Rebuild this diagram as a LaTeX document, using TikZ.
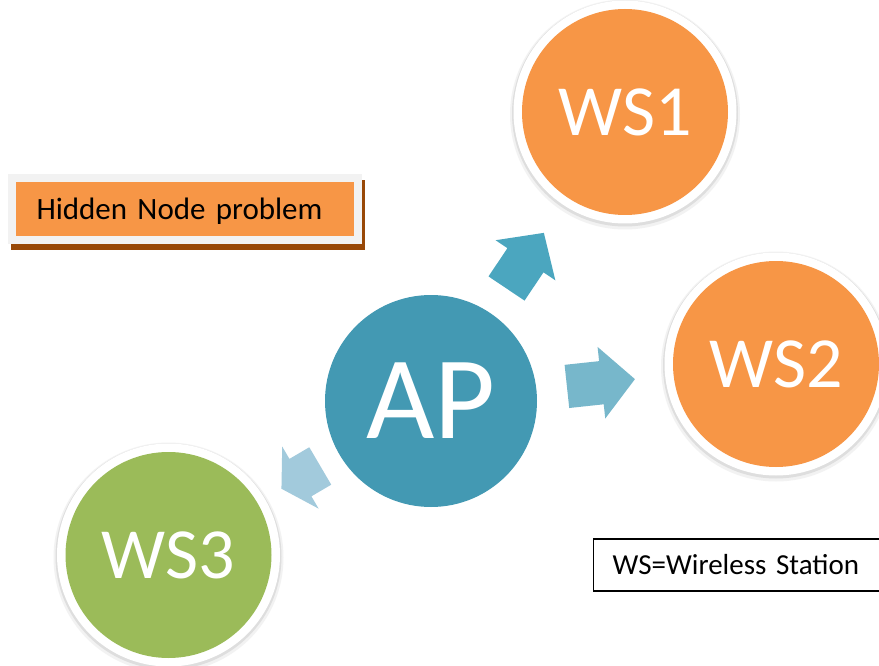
\documentclass[tikz,border=0pt]{standalone}
\usepackage{fontspec}
\setmainfont{Carlito}
\usetikzlibrary{calc,backgrounds}
\definecolor{orng}{HTML}{F79646}
\definecolor{grn}{HTML}{9BBB59}
\definecolor{apc}{HTML}{4399B3}
\definecolor{arrowA}{HTML}{4BA6BF}
\definecolor{arrowB}{HTML}{77B7CB}
\definecolor{arrowC}{HTML}{A2CADC}
\definecolor{shadowbrown}{HTML}{984807}
\definecolor{framegray}{HTML}{F2F2F2}
\tikzset{
  station/.style={circle, inner sep=0pt, minimum size=206pt, text=white,
    font=\fontsize{72}{80}\selectfont},
  apnode/.style={circle, inner sep=0pt, minimum size=212pt, fill=apc, text=white,
    font=\fontsize{118}{120}\selectfont},
  titlebox/.style={rectangle, fill=orng, draw=framegray, line width=8.5pt,
    minimum width=346pt, minimum height=62pt, text width=297pt, inner xsep=24.5pt,
    align=left, text depth=0pt, font=\fontsize{31}{38}\selectfont},
  legendbox/.style={rectangle, draw=black, line width=1.3pt, minimum height=52pt,
    text width=280pt, inner xsep=19pt, align=left, font=\fontsize{29}{34}\selectfont},
  pics/blockarrow/.style n args={3}{code={
    \fill[#3] (0,-21.7) -- ({#1-#2},-21.7) -- ({#1-#2},-36) -- (#1,0)
      -- ({#1-#2},36) -- ({#1-#2},21.7) -- (0,21.7) -- cycle;}},
}
\begin{document}
\begin{tikzpicture}[x=1pt,y=-1pt]
\clip (0,0) rectangle (879,666);

% main nodes
\node[apnode] (AP) at (431,401) {AP};
\node[station, fill=orng] (WS1) at (625,112) {WS1};
\node[station, fill=orng] (WS2) at (776,364) {WS2};
\node[station, fill=grn] (WS3) at (168.5,555) {WS3};

% block arrows from AP towards the stations
\path let \p1=($(WS1)-(AP)$), \n1={atan2(\y1,\x1)} in
  ($(AP)!135.5pt!(WS1)$) pic[rotate=\n1] {blockarrow={67}{33}{arrowA}};
\path let \p1=($(WS2)-(AP)$), \n1={atan2(\y1,\x1)} in
  ($(AP)!136.7pt!(WS2)$) pic[rotate=\n1] {blockarrow={68.4}{33.7}{arrowB}};
\path let \p1=($(WS3)-(AP)$), \n1={atan2(\y1,\x1)} in
  ($(AP)!128.4pt!(WS3)$) pic[rotate=\n1] {blockarrow={45}{22}{arrowC}};

% title box and legend
\node[titlebox] (title) at (185,209) {Hidden Node problem};
\node[legendbox, anchor=west] (legend) at (593,565) {WS=Wireless Station};

\begin{scope}[on background layer]
  \fill[white] (0,0) rectangle (879,666);
  \foreach \n in {WS1,WS2,WS3} {
    \fill[black!5] ([yshift=-2.5pt]\n.center) circle (115pt);
    \fill[black!13] ([yshift=-1.5pt]\n.center) circle (113pt);
    \fill[white] (\n.center) circle (111.5pt);
  }
  \fill[shadowbrown] ([shift={(3,6)}]title.south west) rectangle ([shift={(3,6)}]title.north east);
\end{scope}
\end{tikzpicture}
\end{document}
